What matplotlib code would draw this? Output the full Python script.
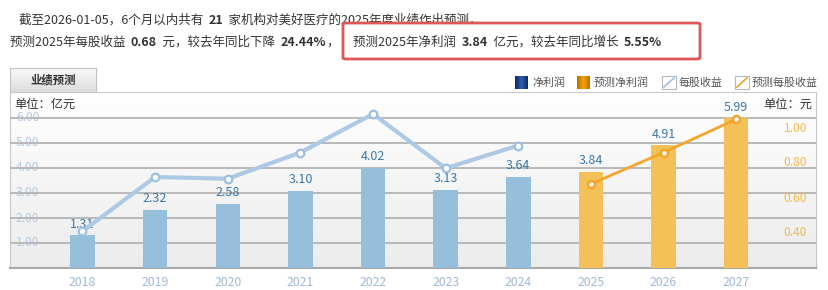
import matplotlib
matplotlib.use("Agg")
import matplotlib.pyplot as plt
import numpy as np
from matplotlib.patches import Rectangle, FancyBboxPatch
from matplotlib.lines import Line2D
from matplotlib.colors import LinearSegmentedColormap

plt.rcParams['font.family'] = ['Noto Sans CJK SC', 'DejaVu Sans']

# data
years = ['2018', '2019', '2020', '2021', '2022', '2023', '2024', '2025', '2026', '2027']
profit = [1.31, 2.32, 2.58, 3.10, 4.02, 3.13, 3.64, 3.84, 4.91, 5.99]
eps = [0.41, 0.72, 0.71, 0.86, 1.08, 0.77, 0.90, 0.68, 0.86, 1.05]
n_actual = 7
left_ticks = [1.00, 2.00, 3.00, 4.00, 5.00, 6.00]
right_ticks = [0.40, 0.60, 0.80, 1.00]
legend_labels = ['净利润', '预测净利润', '每股收益', '预测每股收益']

W, H = 829, 290
fig = plt.figure(figsize=(W / 100, H / 100), dpi=100)


def fx(x):
    return x / W


def fy(y):
    return 1 - y / H


def segments(x, y, parts, size=9.0, color='#333333', z=5):
    """ Draw a row of text pieces (text, bold) one after another, from pixel x.
    """
    r = fig.canvas.get_renderer()
    for s, bold in parts:
        t = fig.text(fx(x), fy(y), s, fontsize=size, color=color, va='center', ha='left',
                     fontweight='bold' if bold else 'normal', zorder=z)
        x += t.get_window_extent(renderer=r).width
    return x


# header text
segments(19, 20, [('截至2026-01-05，6个月以内共有  ', False), ('21', True),
                  ('  家机构对美好医疗的2025年度业绩作出预测，', False)])
segments(10, 42, [('预测2025年每股收益  ', False), ('0.68', True), ('  元，较去年同比下降  ', False),
                  ('24.44%', True), ('，', False)])
box = FancyBboxPatch((fx(343), fy(59)), fx(700) - fx(343), fy(23) - fy(59),
                     boxstyle='round,pad=0,rounding_size=0.004', transform=fig.transFigure,
                     facecolor='white', edgecolor='#e05555', lw=2, zorder=6)
fig.patches.append(box)
segments(353, 42, [('预测2025年净利润  ', False), ('3.84', True), ('  亿元，较去年同比增长  ', False),
                   ('5.55%', True)], z=7)

# tab
tab_cm = LinearSegmentedColormap.from_list('tab', ['#fafafa', '#dcdcdc'])
tab = fig.add_axes([fx(10), fy(92), fx(96) - fx(10), (92 - 68) / H])
tab.imshow(np.linspace(0, 1, 50).reshape(-1, 1), cmap=tab_cm, aspect='auto', extent=[0, 1, 0, 1])
tab.set_xlim(0, 1)
tab.set_ylim(0, 1)
tab.set_xticks([])
tab.set_yticks([])
for s in tab.spines.values():
    s.set_color('#c4c4c4')
tab.text(0.5, 0.5, '业绩预测', ha='center', va='center', fontsize=8.2, fontweight='bold', color='#333333')

# legend
lx = [515, 577, 662, 735]
for i, lab in enumerate(legend_labels):
    x0 = lx[i]
    if i == 0:
        cm = LinearSegmentedColormap.from_list('n', ['#0b2a6a', '#2f5fae', '#0b2a6a'])
    elif i == 1:
        cm = LinearSegmentedColormap.from_list('o', ['#b86f00', '#f5a300', '#b86f00'])
    if i < 2:
        sw = fig.add_axes([fx(x0), fy(89), 13 / W, 13 / H])
        sw.imshow(np.linspace(0, 1, 30).reshape(1, -1), cmap=cm, aspect='auto')
        sw.axis('off')
    else:
        fig.patches.append(Rectangle((fx(x0), fy(89)), 14 / W, 13 / H, transform=fig.transFigure,
                                     facecolor='white', edgecolor='#b8b8b8', lw=0.8))
        c = '#9dbfe0' if i == 2 else '#f0a020'
        fig.lines.append(Line2D([fx(x0 + 2), fx(x0 + 12)], [fy(87), fy(78)], transform=fig.transFigure,
                                color=c, lw=1.2))
    fig.text(fx(x0 + 17), fy(82.5), lab, fontsize=7.9, color='#555555', va='center', ha='left')

# plot box
rect = [fx(10), fy(268), (816 - 10) / W, (268 - 92) / H]
bg = fig.add_axes(rect, zorder=0)
bg_cm = LinearSegmentedColormap.from_list('bg', ['#ffffff', '#ececec'])
bg.imshow(np.linspace(0, 1, 100).reshape(-1, 1), cmap=bg_cm, aspect='auto', extent=[0, 1, 0, 1])
bg.set_xlim(0, 1)
bg.set_ylim(0, 1)
bg.set_xticks([])
bg.set_yticks([])
for s in bg.spines.values():
    s.set_color('#c8c8c8')
bg.spines['bottom'].set_color('#a8a8a8')
bg.spines['bottom'].set_linewidth(1.5)

ax = fig.add_axes(rect, zorder=1)
ax.patch.set_visible(False)
idx = np.arange(len(years))
bar_colors = ['#96bfdc' if i < n_actual else '#f3c157' for i in idx]
ax.bar(idx, profit, width=0.337, color=bar_colors, zorder=2)
for i, v in zip(idx, profit):
    ax.text(i, v + 0.18, '%.2f' % v, ha='center', va='bottom', fontsize=9, color='#3a78a8', zorder=3)
for v in left_ticks:
    ax.axhline(v, color='#b4b4b4', lw=1.3, zorder=1)
    ax.text(0.0075, v, '%.2f' % v, transform=ax.get_yaxis_transform(), ha='left', va='center',
            fontsize=8.6, color='#b4c8e0', zorder=0.5)
ax.set_xlim(-0.998, 10.099)
ax.set_ylim(0, 176 / 25)
ax.set_xticks(idx)
ax.set_xticklabels(years, fontsize=8.8, color='#9fb8d6')
ax.tick_params(axis='x', length=0, pad=6)
ax.set_yticks([])
for s in ax.spines.values():
    s.set_visible(False)
ax.text(0.005, 0.965, '单位：亿元', transform=ax.transAxes, ha='left', va='top', fontsize=8.8, color='#333333')
ax.text(0.995, 0.965, '单位：元', transform=ax.transAxes, ha='right', va='top', fontsize=8.8, color='#333333')

ax2 = ax.twinx()
ax2.set_ylim(0.2, 0.2 + 176 / 175)
ax2.set_yticks([])
for s in ax2.spines.values():
    s.set_visible(False)
ax2.plot(idx[:n_actual], eps[:n_actual], color='#adc9e6', lw=3, marker='o', markersize=5.5,
         markerfacecolor='white', markeredgecolor='#9dbfe0', markeredgewidth=1.6, zorder=4)
ax2.plot(idx[n_actual:], eps[n_actual:], color='#f2a62a', lw=2, marker='o', markersize=5,
         markerfacecolor='white', markeredgecolor='#f2a62a', markeredgewidth=1.8, zorder=4)
for v in right_ticks:
    ax2.text(0.989, v, '%.2f' % v, transform=ax2.get_yaxis_transform(), ha='right', va='center',
             fontsize=8.6, color='#f5b94a')

fig.savefig('out.png', dpi=100)
